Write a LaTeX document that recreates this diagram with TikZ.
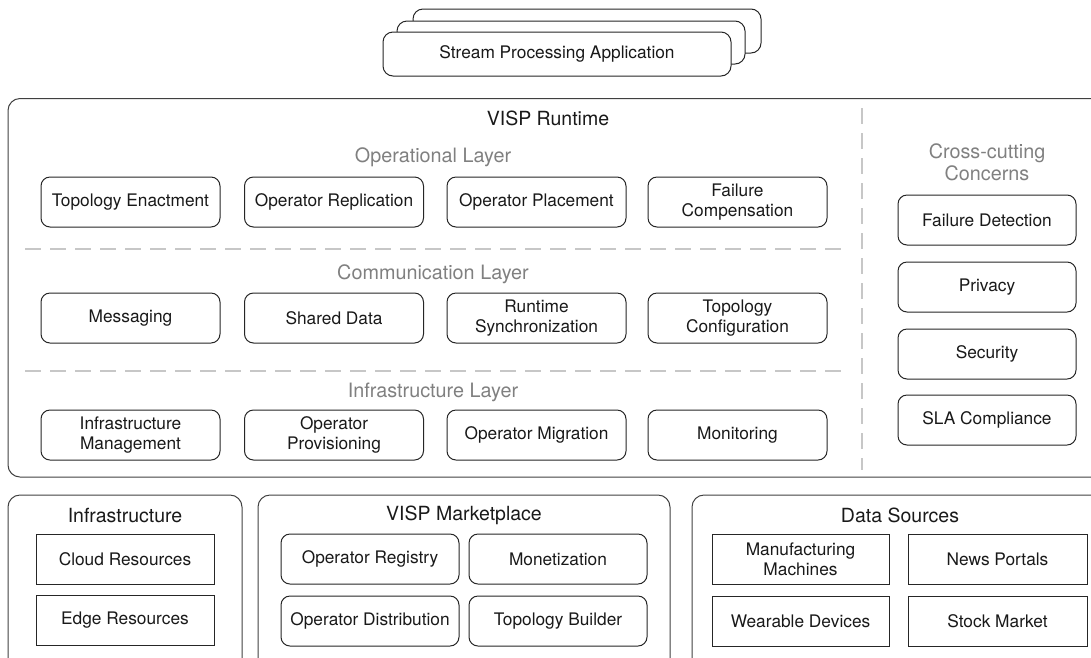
\documentclass[tikz,border=0pt]{standalone}
\usepackage{fontspec}
\setmainfont{TeX Gyre Heros}
\begin{document}
\begin{tikzpicture}[x=1pt,y=-1pt,
  every node/.style={font=\fontsize{17.3}{20}\selectfont, text=black!90, align=center, inner sep=0pt},
  comp/.style={draw=black!85, line width=1pt, rounded corners=9pt, fill=white,
    minimum width=179pt, minimum height=50pt},
  res/.style={draw=black!85, line width=1pt, fill=white,
    minimum width=178pt, minimum height=50pt},
  frame/.style={draw=black!75, line width=1pt, rounded corners=12pt},
  title/.style={font=\fontsize{19.5}{22}\selectfont},
  layer/.style={font=\fontsize{19.8}{22}\selectfont, text=black!50},
  sep/.style={draw=black!22, line width=1.3pt, dash pattern=on 16pt off 9pt},
  app/.style={draw=black!85, line width=1pt, rounded corners=10pt, fill=white}]
\useasboundingbox (0,0) rectangle (1091,657);
\clip (0,0) rectangle (1091,657);

% stacked application instances
\draw[app] (413,9) rectangle (761,53);
\draw[app] (397,21) rectangle (745,64);
\node[app, minimum width=348pt, minimum height=44pt] (spa) at (557,54) {Stream Processing Application};

% runtime frame
\draw[frame] (8,98.5) rectangle (1110,477);
\node[title] (rt) at (548,118) {VISP Runtime};

% layer separators
\coordinate (s1a) at (25,249); \coordinate (s1b) at (848,249);
\coordinate (s2a) at (25,371); \coordinate (s2b) at (848,371);
\coordinate (v1) at (862,108); \coordinate (v2) at (862,470);
\draw[sep] (s1a) -- (s1b);
\draw[sep] (s2a) -- (s2b);
\draw[sep] (v1) -- (v2);

% operational layer
\node[layer] (opl) at (433,157) {Operational Layer};
\node[comp] (te) at (130.5,202) {Topology Enactment};
\node[comp] (orp) at (334,202) {Operator Replication};
\node[comp] (opp) at (536.5,202) {Operator Placement};
\node[comp] (fc) at (737.5,202) {Failure\\Compensation};

% communication layer
\node[layer] (cml) at (433,274) {Communication Layer};
\node[comp] (msg) at (130.5,318) {Messaging};
\node[comp] (sd) at (334,318) {Shared Data};
\node[comp] (rs) at (536.5,318) {Runtime\\Synchronization};
\node[comp] (tc) at (737.5,318) {Topology\\Configuration};

% infrastructure layer
\node[layer] (inl) at (433,392) {Infrastructure Layer};
\node[comp] (im) at (130.5,435) {Infrastructure\\Management};
\node[comp] (opv) at (334,435) {Operator\\Provisioning};
\node[comp] (om) at (536.5,435) {Operator Migration};
\node[comp] (mon) at (737.5,435) {Monitoring};

% cross-cutting concerns
\node[layer] (ccc) at (987,162) {Cross-cutting\\Concerns};
\node[comp, minimum width=178pt] (fd) at (987,220) {Failure Detection};
\node[comp, minimum width=178pt] (prv) at (987,287) {Privacy};
\node[comp, minimum width=178pt] (sec) at (987,354) {Security};
\node[comp, minimum width=178pt] (sla) at (987,420) {SLA Compliance};

% infrastructure
\draw[frame] (8,495) rectangle (242,700);
\node[title] (inf) at (125,515) {Infrastructure};
\node[res] (cr) at (125,559) {Cloud Resources};
\node[res] (er) at (125,620.5) {Edge Resources};

% marketplace
\draw[frame] (258,495) rectangle (670,700);
\node[title] (mp) at (464,515) {VISP Marketplace};
\node[comp, minimum width=178pt] (oreg) at (370,559) {Operator Registry};
\node[comp, minimum width=178pt] (mz) at (558,559) {Monetization};
\node[comp, minimum width=178pt] (od) at (370,621) {Operator Distribution};
\node[comp, minimum width=178pt] (tb) at (558,621) {Topology Builder};

% data sources
\draw[frame] (692,495) rectangle (1108,700);
\node[title] (ds) at (900,515) {Data Sources};
\node[res, minimum width=177pt] (mm) at (800.5,559) {Manufacturing\\Machines};
\node[res, minimum width=179pt] (np) at (997.5,559) {News Portals};
\node[res, minimum width=177pt] (wd) at (800.5,621) {Wearable Devices};
\node[res, minimum width=179pt] (sm) at (997.5,621) {Stock Market};
\end{tikzpicture}
\end{document}
